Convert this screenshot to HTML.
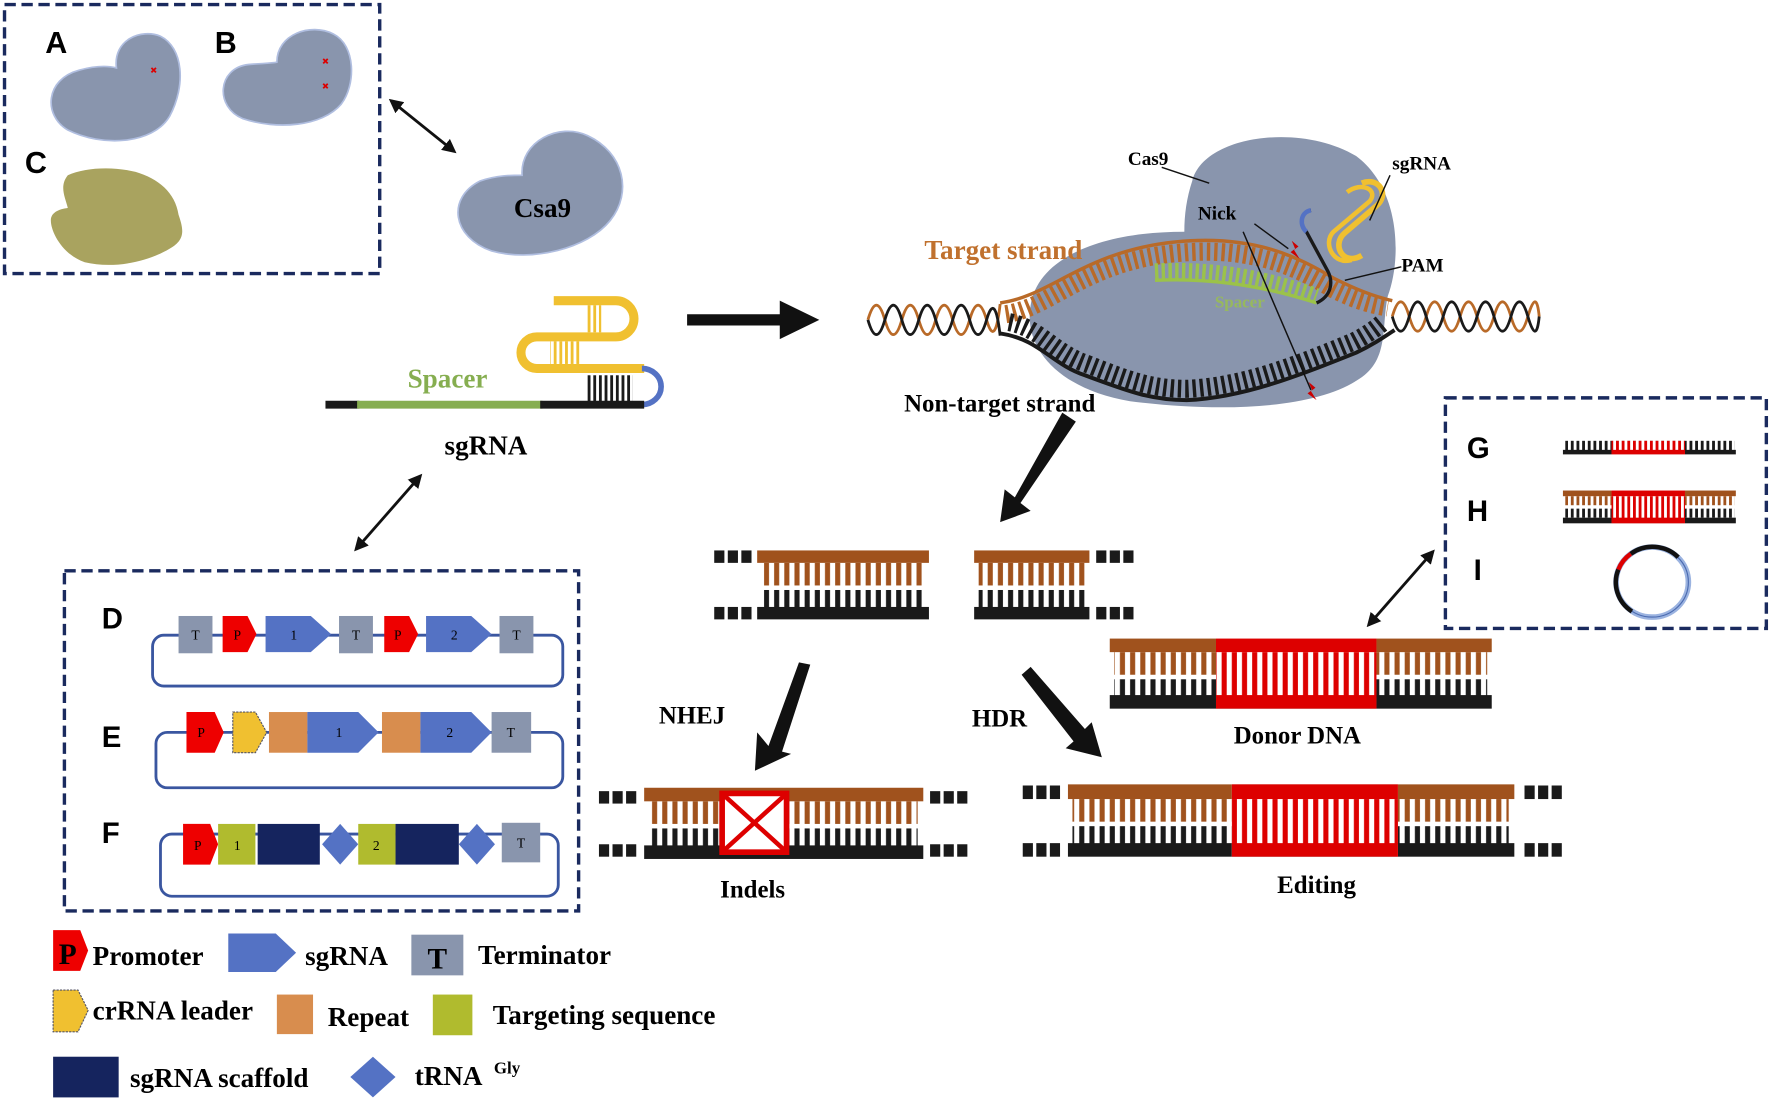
<!DOCTYPE html>
<html><head><meta charset="utf-8"><style>
html,body{margin:0;padding:0;background:#fff;width:1772px;height:1102px;overflow:hidden}
svg{display:block}
.s{font-family:"Liberation Serif",serif;font-weight:bold}
.a{font-family:"Liberation Sans",sans-serif;font-weight:bold}
</style></head><body>
<svg width="1772" height="1102" viewBox="0 0 1568 975" xmlns="http://www.w3.org/2000/svg">
<defs>
<pattern id="pO" width="9" height="200" patternUnits="userSpaceOnUse"><rect x="1" width="4.5" height="200" fill="#a0521d"/></pattern>
<pattern id="pK" width="9" height="200" patternUnits="userSpaceOnUse"><rect x="1" width="4.5" height="200" fill="#1a1a1a"/></pattern>
<pattern id="pR" width="9" height="200" patternUnits="userSpaceOnUse"><rect x="1" width="4.5" height="200" fill="#dd0000"/></pattern>
<pattern id="pK2" width="5" height="200" patternUnits="userSpaceOnUse"><rect x="0" width="2.5" height="200" fill="#1a1a1a"/></pattern>
<pattern id="pO2" width="5" height="200" patternUnits="userSpaceOnUse"><rect x="0" width="2.5" height="200" fill="#a0521d"/></pattern>
<pattern id="pY2" width="5" height="200" patternUnits="userSpaceOnUse"><rect x="0" width="2.5" height="200" fill="#f0c030"/></pattern>
<pattern id="pR2" width="5" height="200" patternUnits="userSpaceOnUse"><rect x="0" width="2.5" height="200" fill="#dd0000"/></pattern>
<marker id="ah" viewBox="0 0 10 10" refX="8" refY="5" markerWidth="5" markerHeight="5" orient="auto-start-reverse"><path d="M0,0L10,5L0,10z" fill="#111"/></marker>
</defs>

<!-- Box ABC -->
<rect x="4" y="4" width="332" height="238" fill="none" stroke="#1a2a5e" stroke-width="3" stroke-dasharray="10 5"/>
<text x="40" y="47" class="a" font-size="27">A</text>
<text x="190" y="47" class="a" font-size="27">B</text>
<text x="22" y="153" class="a" font-size="27">C</text>
<g fill="#8995ad" stroke="#b0bee0" stroke-width="1.5">
<path d="M103,60 C100,35 125,25 142,32 C162,42 165,75 150,103 C135,128 90,130 60,115 C38,102 40,70 70,62 C85,58 95,58 103,60Z"/>
<path d="M245,55 C245,30 275,20 295,30 C315,40 315,75 302,92 C285,112 245,115 215,105 C190,95 192,60 220,57 C232,56 240,56 245,55Z"/>
<path d="M462,155 C460,125 495,108 520,120 C552,135 560,170 540,195 C520,220 470,232 435,222 C400,210 395,175 425,160 C440,155 452,155 462,155Z"/>
</g>
<g stroke="#d00" stroke-width="1.6"><path d="M134,60l4,4m0,-4l-4,4M286,52l4,4m0,-4l-4,4M286,74l4,4m0,-4l-4,4"/></g>
<path d="M60,155 C75,148 100,147 120,152 C140,158 155,170 158,190 C162,202 165,212 150,220 C130,232 100,238 75,232 C55,225 45,205 45,195 C45,188 52,185 60,184 C58,175 52,165 60,155Z" fill="#a9a35f"/>
<text x="480" y="192" text-anchor="middle" class="s" font-size="24">Csa9</text>
<line x1="346" y1="89" x2="402" y2="134" stroke="#111" stroke-width="2.5" marker-start="url(#ah)" marker-end="url(#ah)"/>

<!-- sgRNA -->
<g fill="none">
<path d="M490,266 L545,266 A16,16 0 0 1 545,298 L475,298 A14,14 0 0 0 475,326 L570,326" stroke="#f0c030" stroke-width="8"/>
<path d="M568,326 A17,16 0 0 1 568,358" stroke="#5472c4" stroke-width="5"/>
<line x1="288" y1="358" x2="318" y2="358" stroke="#1a1a1a" stroke-width="7"/>
<line x1="316" y1="358" x2="480" y2="358" stroke="#86ae50" stroke-width="7"/>
<line x1="478" y1="358" x2="570" y2="358" stroke="#1a1a1a" stroke-width="7"/>
</g>
<rect x="518" y="270" width="14" height="24" fill="url(#pY2)"/>
<rect x="487" y="302" width="26" height="20" fill="url(#pY2)"/>
<rect x="518" y="332" width="42" height="23" fill="url(#pK2)"/>
<text x="396" y="343" text-anchor="middle" class="s" font-size="24" fill="#86ae50">Spacer</text>
<text x="430" y="402" text-anchor="middle" class="s" font-size="24">sgRNA</text>
<path d="M608,278 L690,278 L690,266 L725,283 L690,300 L690,288 L608,288Z" fill="#111"/>
<line x1="372" y1="421" x2="315" y2="486" stroke="#111" stroke-width="2.5" marker-start="url(#ah)" marker-end="url(#ah)"/>

<!-- Complex -->
<path d="M1055,160 C1065,120 1150,108 1200,138 C1240,168 1240,230 1228,262 C1222,290 1230,320 1200,337 C1160,362 1080,365 1000,355 C940,345 905,310 912,270 C918,230 970,205 1048,205 C1048,190 1050,175 1055,160Z" fill="#8995ad"/>
<g fill="none" stroke-width="2.5">
<path d="M768,283 q7.5,-26 15,0 t15,0 t15,0 t15,0 t15,0 t15,0 t15,0 t12,-14" stroke="#b96a28"/>
<path d="M768,283 q7.5,26 15,0 t15,0 t15,0 t15,0 t15,0 t15,0 t15,0 t12,14" stroke="#1a1a1a"/>
<path d="M1232,280 q7.5,-26 15,0 t15,0 t15,0 t15,0 t15,0 t15,0 t15,0 t15,0 t10,0" stroke="#b96a28"/>
<path d="M1232,280 q7.5,26 15,0 t15,0 t15,0 t15,0 t15,0 t15,0 t15,0 t15,0 t10,0" stroke="#1a1a1a"/>
<path d="M885,268 C930,262 960,222 1040,214 C1110,207 1150,228 1180,246 C1200,256 1215,262 1232,266" stroke="#b96a28" stroke-width="3"/>
<path d="M890,278 C930,272 960,232 1040,224 C1110,217 1150,238 1180,256 C1200,266 1215,270 1228,272" stroke="#b96a28" stroke-width="16" stroke-dasharray="3 3.5"/>
<path d="M1022,240 C1060,238 1110,242 1165,262" stroke="#9bc24a" stroke-width="14" stroke-dasharray="3 3"/>
<path d="M1022,248 C1060,246 1110,250 1165,268" stroke="#9bc24a" stroke-width="3"/>
<path d="M885,295 C920,300 930,322 960,332 C1000,347 1020,354 1050,354 C1100,352 1150,332 1200,312 C1215,305 1225,298 1234,292" stroke="#1a1a1a" stroke-width="3.5"/>
<path d="M893,285 C920,290 932,312 962,322 C1000,337 1020,344 1050,344 C1100,342 1150,322 1198,302 C1210,296 1218,290 1225,284" stroke="#1a1a1a" stroke-width="16" stroke-dasharray="3 3.5"/>
<path d="M1160,186 C1150,188 1150,200 1156,205 L1175,240 C1180,250 1178,262 1165,268" stroke="#1a1a1a" stroke-width="3"/>
<path d="M1160,186 C1150,188 1150,200 1156,205" stroke="#5472c4" stroke-width="4"/>
<path d="M1205,162 C1220,156 1230,172 1218,182 L1190,206 C1178,216 1188,236 1205,226" stroke="#f0c030" stroke-width="5"/>
<path d="M1192,170 C1205,160 1220,168 1212,178 L1180,205 C1170,215 1180,235 1196,230" stroke="#f0c030" stroke-width="4"/>
<line x1="1028" y1="148" x2="1070" y2="162" stroke="#111" stroke-width="1.3"/>
<line x1="1230" y1="155" x2="1212" y2="195" stroke="#111" stroke-width="1.3"/>
<line x1="1240" y1="236" x2="1190" y2="248" stroke="#111" stroke-width="1.3"/>
<line x1="1110" y1="198" x2="1140" y2="220" stroke="#111" stroke-width="1.3"/>
<line x1="1100" y1="205" x2="1160" y2="345" stroke="#111" stroke-width="1.3"/>
</g>
<path d="M1143,213 l6,5 l-4,3 l5,8 l-8,-6 l4,-3z M1158,338 l6,5 l-4,3 l5,8 l-8,-6 l4,-3z" fill="#c00"/>
<text x="1075" y="272" class="s" font-size="15" fill="#9bc24a" opacity="0.8">Spacer</text>
<text x="998" y="146" class="s" font-size="17">Cas9</text>
<text x="1232" y="150" class="s" font-size="17">sgRNA</text>
<text x="1060" y="194" class="s" font-size="17">Nick</text>
<text x="1240" y="240" class="s" font-size="17">PAM</text>
<text x="818" y="229" class="s" font-size="24" fill="#c0712e">Target strand</text>
<text x="800" y="364" class="s" font-size="22">Non-target strand</text>
<path d="M940,365 L952,373 L903,445 L912,452 L885,462 L889,433 L898,440Z" fill="#111"/>

<!-- Box DEF -->
<rect x="57" y="505" width="455" height="301" fill="none" stroke="#1a2a5e" stroke-width="3" stroke-dasharray="10 5"/>
<text x="90" y="556" class="a" font-size="26">D</text>
<text x="90" y="661" class="a" font-size="26">E</text>
<text x="90" y="746" class="a" font-size="26">F</text>
<g fill="none" stroke="#3a56a0" stroke-width="2.5">
<rect x="135" y="562" width="363" height="45" rx="10"/>
<rect x="138" y="648" width="360" height="49" rx="10"/>
<rect x="142" y="738" width="352" height="55" rx="10"/>
</g>
<g font-family="Liberation Serif,serif" font-size="12" text-anchor="middle">
<rect x="158" y="545" width="30" height="33" fill="#8995ad"/><text x="173" y="566">T</text>
<path d="M197,545h22l8,16l-8,16h-22z" fill="#e00"/><text x="210" y="566">P</text>
<path d="M235,545h40l18,16l-18,16h-40z" fill="#5472c4"/><text x="260" y="566">1</text>
<rect x="300" y="545" width="30" height="33" fill="#8995ad"/><text x="315" y="566">T</text>
<path d="M340,545h22l8,16l-8,16h-22z" fill="#e00"/><text x="352" y="566">P</text>
<path d="M377,545h40l18,16l-18,16h-40z" fill="#5472c4"/><text x="402" y="566">2</text>
<rect x="442" y="545" width="30" height="33" fill="#8995ad"/><text x="457" y="566">T</text>

<path d="M165,630h25l8,18l-8,18h-25z" fill="#e00"/><text x="178" y="652">P</text>
<path d="M206,630h20l10,18l-10,18h-20z" fill="#f0c030" stroke="#556" stroke-dasharray="2 1"/>
<rect x="238" y="630" width="34" height="36" fill="#d88d4e"/>
<path d="M272,630h45l18,18l-18,18h-45z" fill="#5472c4"/><text x="300" y="652">1</text>
<rect x="338" y="630" width="34" height="36" fill="#d88d4e"/>
<path d="M372,630h45l18,18l-18,18h-45z" fill="#5472c4"/><text x="398" y="652">2</text>
<rect x="435" y="630" width="35" height="36" fill="#8995ad"/><text x="452" y="652">T</text>

<path d="M162,729h24l7,18l-7,18h-24z" fill="#e00"/><text x="175" y="752">P</text>
<rect x="193" y="729" width="33" height="36" fill="#b0bb2e"/><text x="210" y="752">1</text>
<rect x="228" y="729" width="55" height="36" fill="#15245e"/>
<path d="M301,729l16,18l-16,18l-16,-18z" fill="#5472c4"/>
<rect x="317" y="729" width="33" height="36" fill="#b0bb2e"/><text x="333" y="752">2</text>
<rect x="350" y="729" width="56" height="36" fill="#15245e"/>
<path d="M422,729l16,18l-16,18l-16,-18z" fill="#5472c4"/>
<rect x="444" y="728" width="34" height="35" fill="#8995ad"/><text x="461" y="750">T</text>
</g>

<!-- Legend -->
<path d="M47,823h24l7,18l-7,18h-24z" fill="#e00"/><text x="52" y="853" class="s" font-size="26">P</text>
<text x="82" y="854" class="s" font-size="24">Promoter</text>
<path d="M202,826h42l18,17l-18,17h-42z" fill="#5472c4"/>
<text x="270" y="854" class="s" font-size="24">sgRNA</text>
<rect x="364" y="827" width="46" height="36" fill="#8995ad"/><text x="387" y="857" class="s" font-size="26" text-anchor="middle">T</text>
<text x="423" y="853" class="s" font-size="24">Terminator</text>
<path d="M47,876h22l9,18l-9,19h-22z" fill="#f0c030" stroke="#556" stroke-dasharray="2 1"/>
<text x="82" y="902" class="s" font-size="24">crRNA leader</text>
<rect x="245" y="880" width="32" height="35" fill="#d88d4e"/>
<text x="290" y="908" class="s" font-size="24">Repeat</text>
<rect x="383" y="880" width="35" height="36" fill="#b0bb2e"/>
<text x="436" y="906" class="s" font-size="24">Targeting sequence</text>
<rect x="47" y="935" width="58" height="36" fill="#15245e"/>
<text x="115" y="962" class="s" font-size="24">sgRNA scaffold</text>
<path d="M330,935l20,18l-20,18l-20,-18z" fill="#5472c4"/>
<text x="367" y="960" class="s" font-size="24">tRNA</text>
<text x="437" y="950" class="s" font-size="15">Gly</text>

<!-- Broken DNA -->
<g fill="#1a1a1a">
<rect x="632" y="487" width="9" height="11"/><rect x="644" y="487" width="9" height="11"/><rect x="656" y="487" width="9" height="11"/>
<rect x="632" y="537" width="9" height="11"/><rect x="644" y="537" width="9" height="11"/><rect x="656" y="537" width="9" height="11"/>
<rect x="970" y="487" width="9" height="11"/><rect x="982" y="487" width="9" height="11"/><rect x="994" y="487" width="9" height="11"/>
<rect x="970" y="537" width="9" height="11"/><rect x="982" y="537" width="9" height="11"/><rect x="994" y="537" width="9" height="11"/>
</g>
<rect x="670" y="487" width="152" height="11" fill="#a0521d"/><rect x="676" y="498" width="142" height="20" fill="url(#pO)"/>
<rect x="676" y="522" width="142" height="16" fill="url(#pK)"/><rect x="670" y="537" width="152" height="11" fill="#1a1a1a"/>
<rect x="862" y="487" width="102" height="11" fill="#a0521d"/><rect x="866" y="498" width="94" height="20" fill="url(#pO)"/>
<rect x="866" y="522" width="94" height="16" fill="url(#pK)"/><rect x="862" y="537" width="102" height="11" fill="#1a1a1a"/>

<path d="M707,586 L717,588 L692,665 L700,667 L668,682 L670,648 L680,660Z" fill="#111"/>
<path d="M904,597 L912,590 L960,645 L966,639 L975,670 L943,662 L950,656Z" fill="#111"/>
<text x="583" y="640" class="s" font-size="22">NHEJ</text>
<text x="860" y="643" class="s" font-size="22">HDR</text>

<!-- Indels -->
<g fill="#1a1a1a">
<rect x="530" y="700" width="9" height="11"/><rect x="542" y="700" width="9" height="11"/><rect x="554" y="700" width="9" height="11"/>
<rect x="530" y="747" width="9" height="11"/><rect x="542" y="747" width="9" height="11"/><rect x="554" y="747" width="9" height="11"/>
<rect x="823" y="700" width="9" height="11"/><rect x="835" y="700" width="9" height="11"/><rect x="847" y="700" width="9" height="11"/>
<rect x="823" y="747" width="9" height="11"/><rect x="835" y="747" width="9" height="11"/><rect x="847" y="747" width="9" height="11"/>
</g>
<rect x="570" y="697" width="247" height="12" fill="#a0521d"/><rect x="576" y="709" width="236" height="20" fill="url(#pO)"/>
<rect x="576" y="733" width="236" height="16" fill="url(#pK)"/><rect x="570" y="748" width="247" height="12" fill="#1a1a1a"/>
<rect x="639" y="702" width="57" height="52" fill="#fff" stroke="#dd0000" stroke-width="5"/>
<path d="M641,704L694,752M694,704L641,752" stroke="#dd0000" stroke-width="4"/>
<text x="666" y="794" text-anchor="middle" class="s" font-size="22">Indels</text>

<!-- Editing -->
<g fill="#1a1a1a">
<rect x="905" y="695" width="9" height="12"/><rect x="917" y="695" width="9" height="12"/><rect x="929" y="695" width="9" height="12"/>
<rect x="905" y="746" width="9" height="12"/><rect x="917" y="746" width="9" height="12"/><rect x="929" y="746" width="9" height="12"/>
<rect x="1349" y="695" width="9" height="12"/><rect x="1361" y="695" width="9" height="12"/><rect x="1373" y="695" width="9" height="12"/>
<rect x="1349" y="746" width="9" height="12"/><rect x="1361" y="746" width="9" height="12"/><rect x="1373" y="746" width="9" height="12"/>
</g>
<rect x="945" y="694" width="395" height="13" fill="#a0521d"/><rect x="949" y="707" width="386" height="20" fill="url(#pO)"/>
<rect x="949" y="731" width="386" height="16" fill="url(#pK)"/><rect x="945" y="746" width="395" height="12" fill="#1a1a1a"/>
<rect x="1090" y="694" width="147" height="64" fill="#fff"/>
<rect x="1090" y="694" width="147" height="13" fill="#dd0000"/><rect x="1090" y="707" width="147" height="40" fill="url(#pR)"/>
<rect x="1090" y="746" width="147" height="12" fill="#dd0000"/>
<text x="1165" y="790" text-anchor="middle" class="s" font-size="22">Editing</text>

<!-- Donor -->
<rect x="982" y="565" width="338" height="12" fill="#a0521d"/><rect x="986" y="577" width="330" height="20" fill="url(#pO)"/>
<rect x="986" y="601" width="330" height="16" fill="url(#pK)"/><rect x="982" y="615" width="338" height="12" fill="#1a1a1a"/>
<rect x="1076" y="565" width="142" height="62" fill="#fff"/>
<rect x="1076" y="565" width="142" height="12" fill="#dd0000"/><rect x="1076" y="577" width="142" height="40" fill="url(#pR)"/>
<rect x="1076" y="615" width="142" height="12" fill="#dd0000"/>
<text x="1148" y="658" text-anchor="middle" class="s" font-size="22">Donor DNA</text>
<line x1="1268" y1="488" x2="1211" y2="553" stroke="#111" stroke-width="2.5" marker-start="url(#ah)" marker-end="url(#ah)"/>

<!-- Box GHI -->
<rect x="1279" y="352" width="284" height="204" fill="none" stroke="#1a2a5e" stroke-width="3" stroke-dasharray="10 5"/>
<text x="1298" y="405" class="a" font-size="26">G</text>
<text x="1298" y="461" class="a" font-size="26">H</text>
<text x="1304" y="513" class="a" font-size="26">I</text>
<rect x="1385" y="390" width="150" height="10" fill="url(#pK2)"/>
<rect x="1383" y="398" width="153" height="4" fill="#1a1a1a"/>
<rect x="1426" y="390" width="65" height="12" fill="#fff"/>
<rect x="1426" y="390" width="65" height="10" fill="url(#pR2)"/><rect x="1426" y="398" width="65" height="4" fill="#dd0000"/>
<rect x="1383" y="434" width="153" height="5" fill="#a0521d"/>
<rect x="1385" y="439" width="150" height="8" fill="url(#pO2)"/>
<rect x="1385" y="450" width="150" height="8" fill="url(#pK2)"/>
<rect x="1383" y="458" width="153" height="5" fill="#1a1a1a"/>
<rect x="1426" y="434" width="65" height="29" fill="#fff"/>
<rect x="1426" y="434" width="65" height="5" fill="#dd0000"/><rect x="1426" y="439" width="65" height="20" fill="url(#pR2)"/><rect x="1426" y="458" width="65" height="5" fill="#dd0000"/>
<ellipse cx="1462" cy="515" rx="32" ry="31" fill="none" stroke="#9bb3e0" stroke-width="5"/>
<ellipse cx="1462" cy="515" rx="32" ry="31" fill="none" stroke="#4a6ab0" stroke-width="1"/>
<path d="M1443,490 A32,31 0 0 1 1485,493" fill="none" stroke="#111" stroke-width="4"/>
<path d="M1432,504 A32,31 0 0 1 1443,490" fill="none" stroke="#dd0000" stroke-width="4"/>
<path d="M1444,541 A32,31 0 0 1 1432,504" fill="none" stroke="#111" stroke-width="4"/>
</svg>
</body></html>
